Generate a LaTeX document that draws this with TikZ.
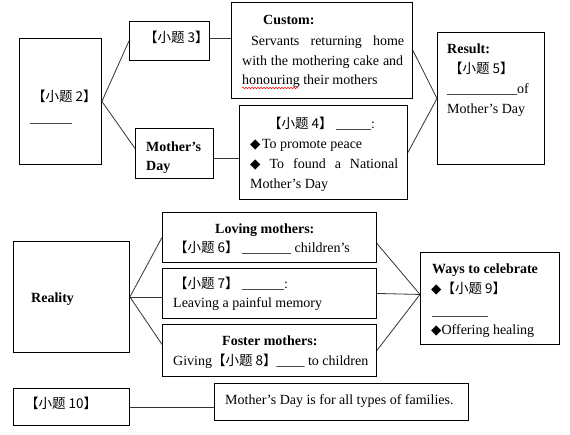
\documentclass[tikz,border=0pt]{standalone}
\usepackage{fontspec}
\setmainfont{Liberation Serif}
\newfontfamily\cjk{Noto Sans CJK SC}
\newfontfamily\dv{DejaVu Sans}
\usetikzlibrary{calc,decorations.pathmorphing}
\newcommand{\xt}[1]{{\cjk\fontsize{13.5}{20}\selectfont #1}}
\newcommand{\dm}{{\dv\fontsize{13.5}{20}\selectfont ◆}}
\begin{document}
\begin{tikzpicture}[x=1pt,y=-1pt,
  box/.style={draw=black,line width=0.9pt,inner sep=0pt,anchor=north west},
  txt/.style={inner sep=0pt,anchor=base west,font=\fontsize{14}{20}\selectfont},
  link/.style={draw=black!80,line width=0.8pt},
  squig/.style={draw=red,line width=0.5pt,decorate,decoration={snake,amplitude=0.8pt,segment length=3pt}}]
\useasboundingbox (0,0) rectangle (570,434);
% ---- boxes (upper part)
\node[box,minimum width=82pt,minimum height=126pt] (A) at (19,38) {};
\node[box,minimum width=80pt,minimum height=39pt] (B) at (129,21) {};
\node[box,minimum width=78pt,minimum height=50pt] (C) at (135,128) {};
\node[box,minimum width=181pt,minimum height=96pt] (D) at (231,2) {};
\node[box,minimum width=168pt,minimum height=94pt] (E) at (239,105) {};
\node[box,minimum width=107pt,minimum height=132pt] (F) at (437,32) {};
% ---- boxes (lower part)
\node[box,minimum width=116pt,minimum height=111pt] (R) at (13,241) {};
\node[box,minimum width=214pt,minimum height=50pt] (L) at (162,212) {};
\node[box,minimum width=214pt,minimum height=50pt] (S) at (162,268) {};
\node[box,minimum width=214pt,minimum height=52pt] (G) at (162,324) {};
\node[box,minimum width=139pt,minimum height=92pt] (W) at (420,252) {};
\node[box,minimum width=116pt,minimum height=37pt] (K) at (13,388) {};
\node[box,minimum width=254pt,minimum height=37pt] (M) at (214,383) {};
% ---- connectors
\draw[link] (A.east) -- (B.west);
\draw[link] (A.east) -- ($(C.north west)!0.4!(C.south west)$);
\draw[link] ([yshift=2.5pt]B.east) -- ([yshift=2.5pt]B.east -| D.west);
\draw[link] ([yshift=-5pt]C.east) -- ([yshift=-5pt]C.east -| E.west);
\draw[link] (D.east) -- (F.west);
\draw[link] (E.east) -- (F.west);
\draw[link] (R.east) -- (L.west);
\draw[link] (R.east) -- (R.east -| S.west);
\draw[link] (R.east) -- ([yshift=6pt]G.west);
\draw[link] ([yshift=-6pt]L.east) -- ([yshift=4pt]W.west);
\draw[link] (S.east) -- ([yshift=4pt]W.west);
\draw[link] (G.east) -- ([yshift=4pt]W.west);
\draw[link] (K.east) -- (K.east -| M.west);
% ---- texts: box A
\node[txt] (a1) at (32,101) {\xt{【小题 2】}};
\node[txt] (a2) at (30,122) {\_\_\_\_\_\_};
% box B
\node[txt] (b1) at (144,42) {\xt{【小题 3】}};
% box C
\node[txt] (c1) at (146,151) {\bfseries Mother’s};
\node[txt] (c2) at (146,170) {\bfseries Day};
% box D
\node[txt] (d1) at (263,24) {\bfseries Custom:};
\node[txt] (d2) at (251,45) {\makebox[153pt][s]{Servants returning home}};
\node[txt] (d3) at (242,65) {\makebox[161pt][s]{with the mothering cake and}};
\node[txt] (d4) at (242,84) {honouring their mothers};
\draw[squig] (242,88) -- (298,88);
% box E
\node[txt] (e1) at (268,128) {\xt{【小题 4】} \_\_\_\_\_:};
\node[txt] (e2) at (250,148) {\dm\kern1.5pt To promote peace};
\node[txt] (e3) at (250,168) {\makebox[148pt][s]{\dm\ To found a National}};
\node[txt] (e4) at (250,188) {Mother’s Day};
% box F
\node[txt] (f1) at (447,53) {\bfseries Result:};
\node[txt] (f2) at (449,73) {\xt{【小题 5】}};
\node[txt] (f3) at (447,93) {\_\_\_\_\_\_\_\_\_\_of};
\node[txt] (f4) at (447,113) {Mother’s Day};
% lower texts
\node[txt] (r1) at (31,302) {\bfseries Reality};
\node[txt] (l1) at (215,233) {\bfseries Loving mothers:};
\node[txt] (l2) at (174,252) {\xt{【小题 6】} \_\_\_\_\_\_\_ children’s};
\node[txt] (s1) at (174,288) {\xt{【小题 7】} \_\_\_\_\_\_:};
\node[txt] (s2) at (173,307) {Leaving a painful memory};
\node[txt] (g1) at (222,345) {\bfseries Foster mothers:};
\node[txt] (g2) at (173,365) {Giving\xt{【小题 8】}\_\_\_\_ to children};
\node[txt] (w1) at (432,273) {\bfseries Ways to celebrate};
\node[txt] (w2) at (431,293) {\dm\xt{【小题 9】}};
\node[txt] (w3) at (432,315) {\_\_\_\_\_\_\_\_};
\node[txt] (w4) at (431,334) {\dm Offering healing};
\node[txt] (k1) at (25,408) {\xt{【小题 10】}};
\node[txt] (m1) at (225,404) {Mother’s Day is for all types of families.};
\end{tikzpicture}
\end{document}
